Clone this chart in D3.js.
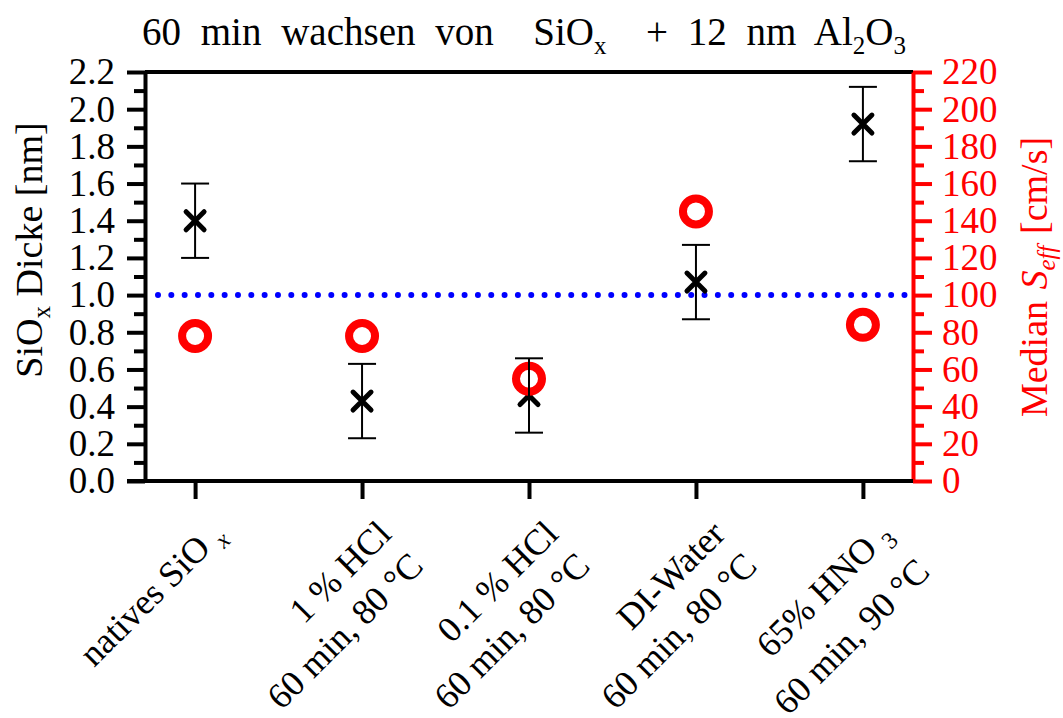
<!DOCTYPE html>
<html>
<head>
<meta charset="utf-8">
<script src="https://cdn.jsdelivr.net/npm/d3@7"></script>
<style>
body { margin: 0; background: #fff; }
text { font-family: "Liberation Serif", "Times New Roman", serif; white-space: pre; }
</style>
</head>
<body>
<script>
// categories, markup: _{..} subscript, ~{..} italic subscript
var categories = [
    ["natives SiO ~{x}"],
    ["1 % HCl", "60 min, 80 °C"],
    ["0.1 % HCl", "60 min, 80 °C"],
    ["DI-Water", "60 min, 80 °C"],
    ["65% HNO _{3}", "60 min, 90 °C"]
];
var thickness = [1.40, 0.43, 0.46, 1.07, 1.92];      // SiOx Dicke [nm]
var thicknessErr = [0.20, 0.20, 0.20, 0.20, 0.20];
var seff = [78, 78, 55, 145, 84];                    // Median Seff [cm/s]
var thicknessTicks = [0, 0.2, 0.4, 0.6, 0.8, 1.0, 1.2, 1.4, 1.6, 1.8, 2.0, 2.2];
var seffTicks = [0, 20, 40, 60, 80, 100, 120, 140, 160, 180, 200, 220];
var refLine = 1.0;
var titleText = "60 min wachsen von  SiO_{x}  + 12 nm Al_{2}O_{3}";

var width = 1063, height = 718;
var plotLeft = 145, plotRight = 913, plotTop = 72, plotBottom = 481;
var fontSize = 36;
var red = '#ff0000';

var svg = d3.select("body").append("svg")
    .attr("width", width)
    .attr("height", height);

var x = d3.scaleLinear().domain([-0.3, categories.length - 1 + 0.3]).range([plotLeft, plotRight]);
var yL = d3.scaleLinear().domain([0, 2.2]).range([plotBottom, plotTop]);
var yR = d3.scaleLinear().domain([0, 220]).range([plotBottom, plotTop]);

// write text with subscripts into a text/tspan parent
function rich(sel, str, subSize, subShift) {
    var re = /_\{([^}]*)\}|~\{([^}]*)\}|([^_~]+)/g, m, shifted = false;
    while ((m = re.exec(str)) !== null) {
        if (m[3] !== undefined) {
            var t = sel.append("tspan").text(m[3]);
            if (shifted) { t.attr("dy", -subShift); shifted = false; }
        } else {
            var s = sel.append("tspan").text(m[1] !== undefined ? m[1] : m[2])
                .attr("dy", subShift).style("font-size", subSize + "px");
            if (m[2] !== undefined) s.style("font-style", "italic");
            shifted = true;
        }
    }
}

// top frame line
svg.append("line")
    .attr("x1", plotLeft).attr("x2", plotRight)
    .attr("y1", plotTop).attr("y2", plotTop)
    .style("stroke", "black").style("stroke-width", 4);

// left axis
var gL = svg.append("g").attr("transform", "translate(" + plotLeft + ",0)");
gL.call(d3.axisLeft(yL).tickValues(thicknessTicks).tickSize(18).tickSizeOuter(0)
    .tickPadding(12).tickFormat(d3.format(".1f")));
gL.append("g").call(d3.axisLeft(yL).tickValues(d3.range(0.1, 2.2, 0.2)).tickSize(11).tickFormat(""))
    .select(".domain").remove();
gL.selectAll("path, line").style("stroke", "black").style("stroke-width", 4);
gL.selectAll("text").style("font-size", "37px").style("fill", "black")
    .style("font-family", "Liberation Serif");

// right axis
var gR = svg.append("g").attr("transform", "translate(" + plotRight + ",0)");
gR.call(d3.axisRight(yR).tickValues(seffTicks).tickSize(19).tickSizeOuter(0)
    .tickPadding(10).tickFormat(d3.format("d")));
gR.append("g").call(d3.axisRight(yR).tickValues(d3.range(10, 220, 20)).tickSize(11).tickFormat(""))
    .select(".domain").remove();
gR.selectAll("path, line").style("stroke", red).style("stroke-width", 4);
gR.selectAll("text").style("font-size", "37px").style("fill", red)
    .style("font-family", "Liberation Serif");

// bottom axis
var gB = svg.append("g").attr("transform", "translate(0," + plotBottom + ")");
gB.call(d3.axisBottom(x).tickValues(d3.range(categories.length)).tickSize(18)
    .tickSizeOuter(0).tickFormat(""));
gB.selectAll("path, line").style("stroke", "black").style("stroke-width", 4);
gB.select(".domain").attr("d", "M" + (plotLeft - 18) + ",0H" + plotRight);

// category labels, rotated
categories.forEach(function (lines, i) {
    var t = svg.append("text")
        .attr("transform", "translate(" + (x(i) + 31) + "," + (plotBottom + 55) + ") rotate(-45)")
        .style("text-anchor", "end")
        .style("font-size", fontSize + "px");
    lines.forEach(function (ln, j) {
        var span = t.append("tspan").attr("x", 0).attr("dy", j === 0 ? 0 : 45);
        rich(span, ln, 24, 8);
    });
});

// reference line
svg.append("line")
    .attr("x1", plotLeft + 13).attr("x2", plotRight)
    .attr("y1", yL(refLine)).attr("y2", yL(refLine))
    .style("stroke", "#0000ff").style("stroke-width", 6)
    .style("stroke-linecap", "round").style("stroke-dasharray", "0 13.33");

// crosses
svg.selectAll("path.cross")
    .data(thickness)
    .enter().append("path")
    .attr("class", "cross")
    .attr("transform", function (d, i) { return "translate(" + x(i) + "," + yL(d) + ")"; })
    .attr("d", "M-9,-9L9,9M-9,9L9,-9")
    .style("stroke", "black").style("stroke-width", 5).style("stroke-linecap", "round");

// Seff circles
svg.selectAll("circle.seff")
    .data(seff)
    .enter().append("circle")
    .attr("class", "seff")
    .attr("cx", function (d, i) { return x(i); })
    .attr("cy", function (d) { return yR(d); })
    .attr("r", 13)
    .style("fill", "none").style("stroke", red).style("stroke-width", 8);

// error bars
var eb = svg.selectAll("g.err")
    .data(thickness)
    .enter().append("g").attr("class", "err")
    .style("stroke", "black").style("stroke-width", 2);
eb.append("line")
    .attr("x1", function (d, i) { return x(i); })
    .attr("x2", function (d, i) { return x(i); })
    .attr("y1", function (d, i) { return yL(d + thicknessErr[i]); })
    .attr("y2", function (d, i) { return yL(d - thicknessErr[i]); });
[1, -1].forEach(function (s) {
    eb.append("line")
        .attr("x1", function (d, i) { return x(i) - 14; })
        .attr("x2", function (d, i) { return x(i) + 14; })
        .attr("y1", function (d, i) { return yL(d + s * thicknessErr[i]); })
        .attr("y2", function (d, i) { return yL(d + s * thicknessErr[i]); });
});

// axis titles
var tL = svg.append("text")
    .attr("transform", "translate(42,250) rotate(-90)")
    .style("text-anchor", "middle").style("font-size", "38px");
rich(tL, "SiO_{x} Dicke [nm]", 25, 8);

var tR = svg.append("text")
    .attr("transform", "translate(1047,277) rotate(-90)")
    .style("text-anchor", "middle").style("font-size", "38px").style("fill", red)
    .style("word-spacing", "2px");
tR.append("tspan").text("Median ");
tR.append("tspan").text("S").style("font-style", "italic");
tR.append("tspan").text("eff").style("font-style", "italic").style("font-size", "25px").attr("dy", 8);
tR.append("tspan").text(" [cm/s]").attr("dy", -8);

// title
var title = svg.append("text")
    .attr("x", (plotLeft + plotRight) / 2 - 5).attr("y", 45)
    .style("text-anchor", "middle").style("font-size", "39px").style("word-spacing", "10px");
rich(title, titleText, 25, 9);
</script>
</body>
</html>
